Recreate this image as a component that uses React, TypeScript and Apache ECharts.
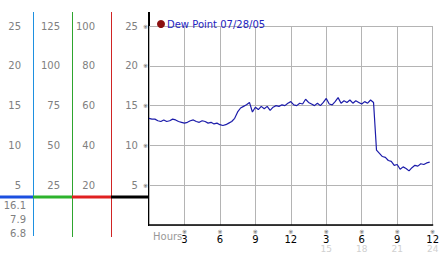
import React, { useEffect, useRef } from 'react';
import * as echarts from 'echarts';

const SERIES_NAME = 'Dew Point 07/28/05';
const STEP_HOURS = 0.25;
// Dew point readings, one every quarter hour from midnight
const dewPoint = [
  13.4, 13.3, 13.3, 13.1, 13.0, 13.2, 13.0, 13.1, 13.3, 13.2,
  13.0, 12.9, 12.8, 12.9, 13.1, 13.2, 13.0, 12.9, 13.1, 13.0,
  12.8, 12.9, 12.7, 12.8, 12.6, 12.5, 12.6, 12.8, 13.0, 13.4,
  14.2, 14.7, 14.9, 15.1, 15.4, 14.2, 14.8, 14.5, 14.9, 14.6,
  14.9, 14.4, 14.8, 15.0, 14.9, 15.1, 15.0, 15.3, 15.5, 15.1,
  15.0, 15.3, 15.2, 15.8, 15.4, 15.2, 15.0, 15.3, 15.0, 15.4,
  15.9, 15.2, 15.1, 15.5, 16.0, 15.3, 15.6, 15.4, 15.7, 15.3,
  15.6, 15.4, 15.2, 15.5, 15.3, 15.7, 15.4, 9.4, 9.0, 8.6,
  8.5, 8.1, 8.0, 7.5, 7.6, 7.0, 7.3, 7.1, 6.8, 7.2,
  7.5, 7.4, 7.7, 7.6, 7.8, 7.9,
];
const summaryLabels = ['16.1', '7.9', '6.8'];
const axisHoursLabel = 'Hours';

const FONT = 'DejaVu Sans';
const GRAY = '#808080';

export default function App() {
  const ref = useRef<HTMLDivElement>(null);
  useEffect(() => {
    if (!ref.current) return;
    const chart = echarts.init(ref.current, undefined, { renderer: 'svg' });
    const data = dewPoint.map((v, i) => [i * STEP_HOURS, v]);
    const sideAxis = (offset: number, max: number, interval: number) => ({
      type: 'value',
      position: 'left',
      offset,
      min: 0,
      max,
      interval,
      axisLine: { show: false },
      axisTick: { show: false },
      splitLine: { show: false },
      axisLabel: {
        margin: 0,
        color: GRAY,
        fontFamily: FONT,
        fontSize: 10,
        formatter: (v: number) => (v === 0 ? '' : String(v)),
      },
    });
    chart.setOption({
      animation: false,
      backgroundColor: '#fff',
      grid: { left: 149, right: 3, top: 26, bottom: 27, containLabel: false },
      legend: {
        left: 152,
        top: 14,
        itemWidth: 8,
        itemHeight: 8,
        data: [{ name: SERIES_NAME, icon: 'circle', itemStyle: { color: '#8b1010' } }],
        textStyle: { color: '#2424c0', fontFamily: FONT, fontSize: 10, padding: [0, 0, 0, -3] },
      },
      xAxis: {
        type: 'value',
        min: 0,
        max: 24,
        interval: 3,
        axisLine: { show: true, lineStyle: { color: '#000', width: 1.5 } },
        axisTick: { show: false },
        splitLine: { show: true, lineStyle: { color: '#b4b4b4', width: 1 } },
        axisLabel: {
          margin: 3,
          fontFamily: FONT,
          formatter: (v: number) =>
            v === 0 ? '' : v <= 12 ? `{m|※}\n{v|${v}}` : `{m|※}\n{v|${v - 12}}\n{g|${v}}`,
          rich: {
            m: { fontSize: 6, lineHeight: 6, color: '#555', fontFamily: FONT },
            v: { fontSize: 10, lineHeight: 10, color: '#000', fontFamily: FONT },
            g: { fontSize: 9, lineHeight: 9, color: '#d0d0d0', fontFamily: FONT },
          },
        },
      },
      yAxis: [
        {
          type: 'value',
          min: 0,
          max: 25,
          interval: 5,
          axisLine: { show: false },
          axisTick: { show: false },
          splitLine: { show: true, lineStyle: { color: '#b4b4b4', width: 1 } },
          axisLabel: {
            margin: 1,
            formatter: (v: number) => (v === 0 ? '' : `{v|${v}}{m|※}`),
            rich: {
              v: { fontSize: 10, color: GRAY, fontFamily: FONT },
              m: { fontSize: 6, color: '#555', fontFamily: FONT, padding: [0, 0, 0, 5] },
            },
          },
        },
        sideAxis(54, 100, 20),
        sideAxis(89, 125, 25),
        sideAxis(128, 25, 5),
      ],
      series: [
        {
          name: SERIES_NAME,
          type: 'line',
          data,
          showSymbol: false,
          symbol: 'circle',
          itemStyle: { color: '#8b1010' },
          lineStyle: { color: '#1c1caa', width: 1.2 },
          z: 5,
        },
      ],
      graphic: [
        { type: 'line', shape: { x1: 33.5, y1: 12, x2: 33.5, y2: 236 }, style: { stroke: '#1e90e0', lineWidth: 1 } },
        { type: 'line', shape: { x1: 72.5, y1: 12, x2: 72.5, y2: 237 }, style: { stroke: '#2ea52e', lineWidth: 1 } },
        { type: 'line', shape: { x1: 111.5, y1: 12, x2: 111.5, y2: 237 }, style: { stroke: '#d02424', lineWidth: 1 } },
        { type: 'line', shape: { x1: 0, y1: 197, x2: 33, y2: 197 }, style: { stroke: '#1b4fe0', lineWidth: 3 } },
        { type: 'line', shape: { x1: 33, y1: 197, x2: 72, y2: 197 }, style: { stroke: '#2db32d', lineWidth: 3 } },
        { type: 'line', shape: { x1: 72, y1: 197, x2: 111, y2: 197 }, style: { stroke: '#e02020', lineWidth: 3 } },
        { type: 'line', shape: { x1: 111, y1: 197, x2: 149, y2: 197 }, style: { stroke: '#000', lineWidth: 3 } },
        { type: 'line', shape: { x1: 149, y1: 12, x2: 149, y2: 226 }, style: { stroke: '#000', lineWidth: 2 } },
        ...summaryLabels.map((t, i) => ({
          type: 'text',
          x: 26,
          y: 205 + i * 14,
          style: { text: t, fill: GRAY, font: `10px "${FONT}"`, textAlign: 'right', textVerticalAlign: 'middle' },
        })),
        {
          type: 'text',
          x: 153,
          y: 236,
          style: { text: axisHoursLabel, fill: '#999', font: `10px "${FONT}"`, textAlign: 'left', textVerticalAlign: 'middle' },
        },
      ],
    });
    return () => chart.dispose();
  }, []);
  return (
    <div
      ref={ref}
      style={{ position: 'absolute', left: 0, top: 0, width: 442, height: 253 }}
    />
  );
}
